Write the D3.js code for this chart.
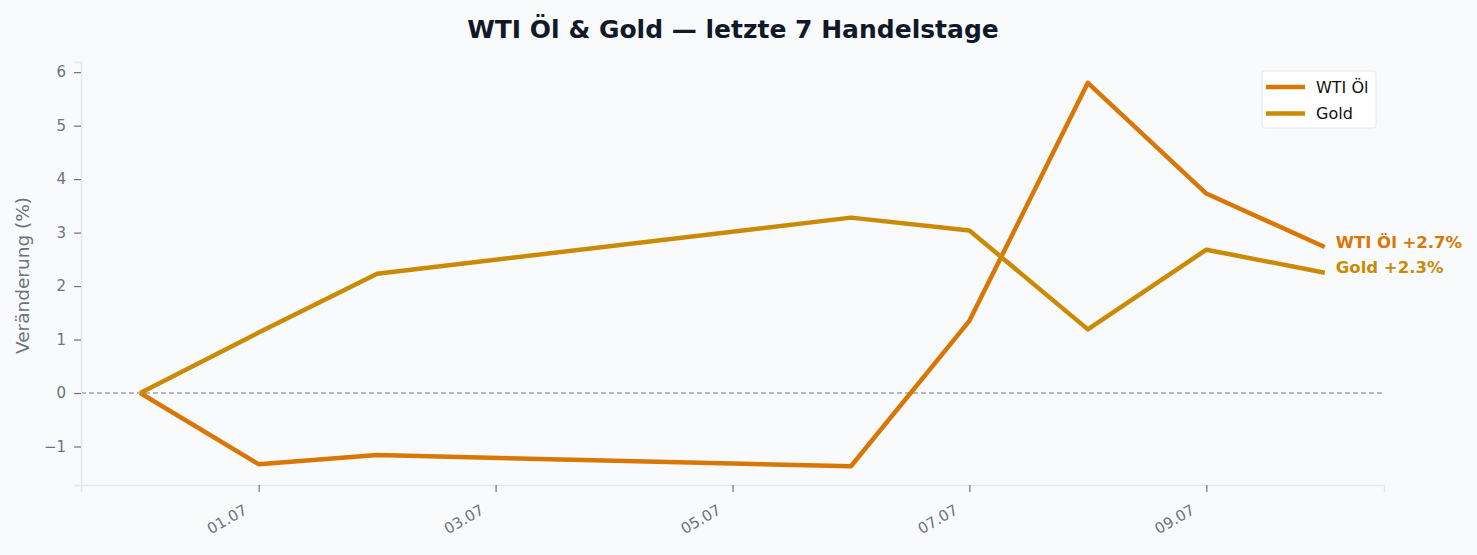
<!DOCTYPE html>
<html lang="de">
  <head>
    <meta charset="utf-8"/>
    <title>WTI Öl & Gold</title>
    <style>
      body { margin: 0; background: #f8fafc; }
      svg text { font-family: "DejaVu Sans", sans-serif; }
    </style>
  </head>
  <body>
    <svg id="chart"></svg>

    <script src="https://d3js.org/d3.v7.min.js"></script>
    <script>
      // data
      const dates = ["2025-06-30", "2025-07-01", "2025-07-02", "2025-07-06", "2025-07-07", "2025-07-08", "2025-07-09", "2025-07-10"];
      const wti = [0, -1.33, -1.16, -1.37, 1.35, 5.8, 3.73, 2.73];
      const gold = [0, 1.13, 2.23, 3.28, 3.04, 1.19, 2.68, 2.25];
      const tickDates = ["2025-07-01", "2025-07-03", "2025-07-05", "2025-07-07", "2025-07-09"];
      const yTicks = [-1, 0, 1, 2, 3, 4, 5, 6];

      const width = 1477, height = 555;
      const plotLeft = 81, plotRight = 1384, plotTop = 62, plotBottom = 485;
      const parse = d3.utcParse("%Y-%m-%d");
      const fmt = d3.utcFormat("%d.%m");

      const svg = d3.select("#chart").attr("width", width).attr("height", height);
      svg.append("rect").attr("width", width).attr("height", height).attr("fill", "#f8fafc");

      const t0 = parse(dates[0]), t1 = parse(dates[dates.length - 1]);
      const half = 12 * 3600 * 1000;
      const x = d3.scaleUtc()
        .domain([new Date(+t0 - half), new Date(+t1 + half)])
        .range([plotLeft, plotRight]);
      const y = d3.scaleLinear().domain([-1.72, 6.19]).range([plotBottom, plotTop]);

      // title
      svg.append("text")
        .attr("x", 733).attr("y", 38)
        .attr("text-anchor", "middle")
        .style("font-size", "25px").style("font-weight", "bold")
        .attr("fill", "#111827")
        .text("WTI Öl & Gold — letzte 7 Handelstage");

      // zero line
      svg.append("line")
        .attr("x1", plotLeft).attr("x2", plotRight)
        .attr("y1", y(0)).attr("y2", y(0))
        .attr("stroke", "#9ca3af").attr("stroke-width", 1.3)
        .attr("stroke-dasharray", "5,3");

      // axes
      const xAxis = svg.append("g")
        .attr("transform", "translate(0," + plotBottom + ")")
        .call(d3.axisBottom(x).tickValues(tickDates.map(parse)).tickFormat(fmt).tickSize(7));
      xAxis.select(".domain").attr("stroke", "#e5e7eb").attr("stroke-width", 1.5);
      xAxis.selectAll(".tick line").attr("stroke", "#6b7280").attr("stroke-width", 1.2);
      xAxis.selectAll(".tick text")
        .attr("fill", "#6b7280").style("font-size", "15px")
        .attr("text-anchor", "end")
        .attr("x", 0).attr("y", 0).attr("dy", 0)
        .attr("transform", "translate(-11,28) rotate(-30)");

      const yAxis = svg.append("g")
        .attr("transform", "translate(" + plotLeft + ",0)")
        .call(d3.axisLeft(y).tickValues(yTicks).tickFormat(d => d < 0 ? "\u2212" + Math.abs(d) : d).tickSize(7).tickPadding(8));
      yAxis.select(".domain").attr("stroke", "#e5e7eb").attr("stroke-width", 1.5);
      yAxis.selectAll(".tick line").attr("stroke", "#6b7280").attr("stroke-width", 1.2);
      yAxis.selectAll(".tick text").attr("fill", "#6b7280").style("font-size", "15px");

      svg.append("text")
        .attr("transform", "translate(29," + ((plotTop + plotBottom) / 2 + 2) + ") rotate(-90)")
        .attr("text-anchor", "middle")
        .attr("fill", "#6b7280").style("font-size", "18.5px")
        .text("Veränderung (%)");

      // lines
      const series = [
        { name: "WTI Öl", values: wti, color: "#d97706" },
        { name: "Gold", values: gold, color: "#ca8a04" }
      ];
      const line = d3.line()
        .x((d, i) => x(parse(dates[i])))
        .y(d => y(d));

      series.forEach(s => {
        svg.append("path")
          .datum(s.values)
          .attr("fill", "none")
          .attr("stroke", s.color)
          .attr("stroke-width", 4.5)
          .attr("stroke-linejoin", "round")
          .attr("d", line);

        const last = s.values[s.values.length - 1];
        svg.append("text")
          .attr("x", x(t1) + 11)
          .attr("y", y(last) + 0.5)
          .attr("fill", s.color)
          .style("font-size", "16.5px").style("font-weight", "bold")
          .text(s.name + " +" + last.toFixed(1) + "%");
      });

      // legend
      const lg = svg.append("g").attr("transform", "translate(1262,71)");
      lg.append("rect")
        .attr("width", 114).attr("height", 57).attr("rx", 3)
        .attr("fill", "#ffffff").attr("stroke", "#e5e7eb");
      series.forEach((s, i) => {
        lg.append("line")
          .attr("x1", 4).attr("x2", 43)
          .attr("y1", 16 + i * 26.5).attr("y2", 16 + i * 26.5)
          .attr("stroke", s.color).attr("stroke-width", 4.5);
        lg.append("text")
          .attr("x", 54).attr("y", 16 + i * 26.5)
          .attr("dominant-baseline", "central")
          .attr("fill", "#111111").style("font-size", "16px")
          .text(s.name);
      });
    </script>
  </body>
</html>
